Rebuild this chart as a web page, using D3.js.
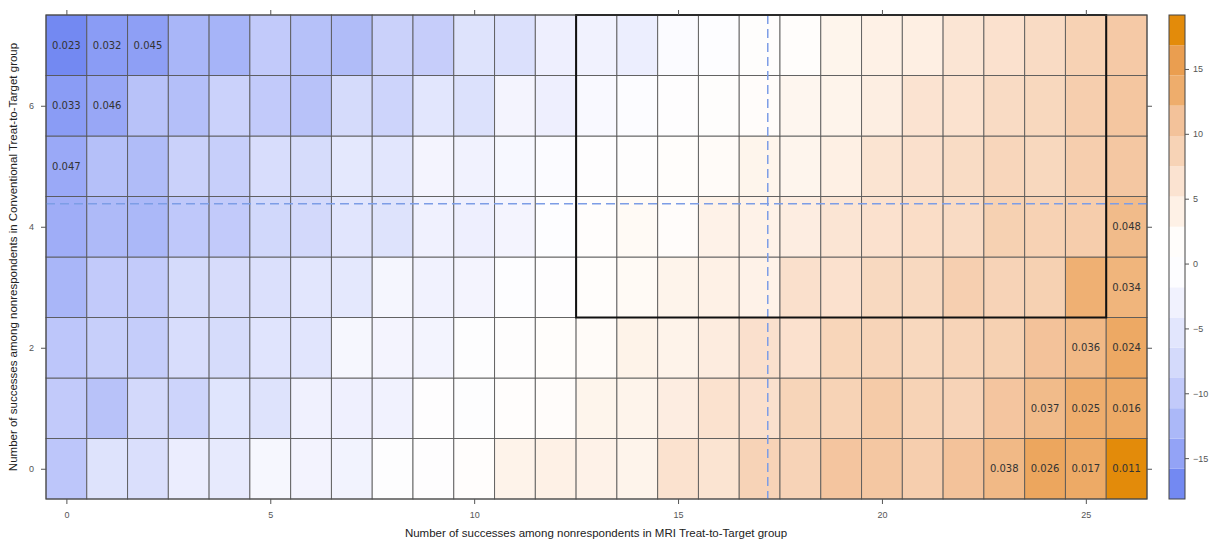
<!DOCTYPE html>
<html>
<head>
<meta charset="utf-8">
<script src="https://cdn.jsdelivr.net/npm/d3@7"></script>
<style>
  body { margin: 0; background: #fff; }
  svg { display: block; }
  .tick text { font-family: "Liberation Sans", Arial, sans-serif; font-size: 9px; fill: #555; }
  .tick line { stroke: #555; }
</style>
</head>
<body>
<div id="chart"></div>
<script>
// successes among nonrespondents, MRI group (x) and conventional group (y)
var xCats = [0,1,2,3,4,5,6,7,8,9,10,11,12,13,14,15,16,17,18,19,20,21,22,23,24,25,26];
var yCats = [0,1,2,3,4,5,6,7];

// difference values per row (y = 0 .. 7)
var row0 = [-10.5,-6.0,-6.7,-4.0,-4.5,-2.0,-2.7,-2.8,-0.3,0.0,1.3,3.6,4.0,3.8,3.5,6.5,6.2,8.6,8.6,10.6,10.3,9.3,11.0,12.0,14.5,13.8,18.0];
var row1 = [-10.0,-11.0,-7.8,-8.6,-5.6,-6.0,-3.2,-3.3,-3.0,0.0,-0.3,1.3,1.8,3.3,3.5,4.6,6.5,6.7,8.4,8.7,9.8,8.7,8.6,10.6,11.8,13.3,13.8];
var row2 = [-10.5,-9.3,-9.6,-7.0,-7.3,-5.7,-5.5,-2.0,-2.5,-2.6,-0.3,0.5,1.6,2.0,3.7,3.6,4.8,6.7,6.6,8.3,8.5,8.0,8.5,9.0,11.0,12.0,14.0];
var row3 = [-12.5,-10.0,-9.8,-7.5,-7.2,-6.5,-5.3,-5.0,-2.2,-3.0,-2.5,-0.5,0.0,1.5,2.3,3.5,4.0,3.8,6.8,6.6,7.8,7.8,9.2,8.6,9.0,13.0,12.5];
var row4 = [-13.5,-12.0,-12.3,-10.3,-10.0,-8.0,-7.8,-5.5,-6.0,-3.2,-3.5,-2.5,-0.5,1.2,2.3,1.8,3.8,3.8,4.6,6.0,6.6,7.2,7.5,9.0,8.8,9.5,11.8];
var row5 = [-14.0,-11.3,-11.8,-9.0,-9.3,-7.0,-7.3,-5.0,-5.3,-2.5,-3.0,-1.8,-1.0,0.0,0.5,1.5,2.0,3.3,3.2,4.2,6.2,6.8,7.4,8.2,8.0,9.3,10.3];
var row6 = [-15.3,-14.2,-11.0,-11.4,-8.8,-10.0,-11.0,-7.5,-8.5,-5.3,-6.3,-2.5,-3.5,-1.5,-0.8,0.0,0.8,1.8,3.0,3.5,4.5,6.3,6.5,7.5,8.0,9.3,10.5];
var row7 = [-17.5,-15.3,-15.0,-12.5,-12.8,-10.0,-11.2,-11.8,-9.0,-9.5,-6.0,-6.5,-3.5,-3.0,-3.7,-1.0,-0.5,0.8,1.5,3.3,4.0,4.3,6.0,6.6,7.5,8.8,10.0];
var rows = [row0, row1, row2, row3, row4, row5, row6, row7];

// p-value labels on significant cells
var pX      = [0, 1, 2, 0, 1, 0, 26, 26, 25, 26, 24, 25, 26, 23, 24, 25, 26];
var pY      = [7, 7, 7, 6, 6, 5, 4, 3, 2, 2, 1, 1, 1, 0, 0, 0, 0];
var pLabels = ["0.023","0.032","0.045","0.033","0.046","0.047","0.048","0.034","0.036","0.024","0.037","0.025","0.016","0.038","0.026","0.017","0.011"];

// colour key cut points and tick labels
var keyBreaks = [-18.15,-15.82,-13.49,-11.15,-8.82,-6.49,-4.16,-1.83,0.51,2.84,5.17,7.50,9.83,12.17,14.50,16.83,19.16];
var keyTicks = [-15,-10,-5,0,5,10,15];
var xTicks = [0,5,10,15,20,25];
var yTicks = [0,2,4,6];

// observed point (dashed lines) and highlighted region
var obsX = 17.2, obsY = 4.38;
var boxX = [12.5, 25.5], boxY = [2.5, 7.5];

var palette = ["#7389f2","#93a3f6","#abb8f8","#c2cafa","#d4dafb","#e2e6fd","#f1f2fe","#fdfdff",
               "#fffdfb","#fef1e6","#fbe3d1","#f7d3b6","#f3c29a","#eead6c","#ea9e50","#e38b0a"];

var W = 1211, H = 542;
var svg = d3.select("#chart").append("svg").attr("width", W).attr("height", H);
svg.append("rect").attr("width", W).attr("height", H).attr("fill", "#fff");

var x = d3.scaleLinear().domain([-0.5, 26.5]).range([46, 1147]);
var y = d3.scaleLinear().domain([-0.5, 7.5]).range([499, 15]);

var mids = d3.range(palette.length).map(function(i) { return (keyBreaks[i] + keyBreaks[i+1]) / 2; });
var color = d3.scaleLinear().domain(mids).range(palette).clamp(true);

var cells = [];
rows.forEach(function(r, j) {
  r.forEach(function(v, i) { cells.push({x: xCats[i], y: yCats[j], v: v}); });
});

var g = svg.append("g");
g.selectAll(".cell").data(cells).enter().append("rect")
  .attr("class", "cell")
  .attr("x", function(d) { return x(d.x - 0.5); })
  .attr("y", function(d) { return y(d.y + 0.5); })
  .attr("width", x(1) - x(0))
  .attr("height", y(0) - y(1))
  .attr("fill", function(d) { return color(d.v); })
  .attr("stroke", "#555")
  .attr("stroke-opacity", 0.85)
  .attr("stroke-width", 1);

// p-value text
g.selectAll(".plab").data(pLabels).enter().append("text")
  .attr("x", function(d, i) { return x(pX[i]); })
  .attr("y", function(d, i) { return y(pY[i]); })
  .attr("dy", "0.35em")
  .attr("text-anchor", "middle")
  .attr("font-family", "DejaVu Sans, sans-serif")
  .attr("font-size", 10)
  .attr("fill", "#333")
  .text(function(d) { return d; });

// dashed reference lines
g.append("line")
  .attr("x1", x(-0.5)).attr("x2", x(26.5))
  .attr("y1", y(obsY)).attr("y2", y(obsY))
  .attr("stroke", "#7d9de6").attr("stroke-width", 1.5).attr("stroke-dasharray", "9,5");
g.append("line")
  .attr("x1", x(obsX)).attr("x2", x(obsX))
  .attr("y1", y(7.5)).attr("y2", y(-0.5))
  .attr("stroke", "#7d9de6").attr("stroke-width", 1.5).attr("stroke-dasharray", "9,5");

// highlighted box
g.append("rect")
  .attr("x", x(boxX[0])).attr("y", y(boxY[1]))
  .attr("width", x(boxX[1]) - x(boxX[0]))
  .attr("height", y(boxY[0]) - y(boxY[1]))
  .attr("fill", "none").attr("stroke", "#111").attr("stroke-width", 2);

// frame
g.append("rect")
  .attr("x", 46).attr("y", 15).attr("width", 1147 - 46).attr("height", 499 - 15)
  .attr("fill", "none").attr("stroke", "#444").attr("stroke-width", 1);

// axes
svg.append("g").attr("transform", "translate(0,499)")
  .call(d3.axisBottom(x).tickValues(xTicks).tickSize(5).tickPadding(8))
  .call(function(s) { s.select(".domain").remove(); });
svg.append("g").attr("transform", "translate(0,15)")
  .call(d3.axisTop(x).tickValues(xTicks).tickSize(5).tickFormat(""))
  .call(function(s) { s.select(".domain").remove(); });
svg.append("g").attr("transform", "translate(46,0)")
  .call(d3.axisLeft(y).tickValues(yTicks).tickSize(5).tickPadding(7))
  .call(function(s) { s.select(".domain").remove(); });
svg.append("g").attr("transform", "translate(1147,0)")
  .call(d3.axisRight(y).tickValues(yTicks).tickSize(5).tickFormat(""))
  .call(function(s) { s.select(".domain").remove(); });

// axis titles
svg.append("text")
  .attr("x", 596).attr("y", 537)
  .attr("text-anchor", "middle")
  .attr("font-family", "Liberation Sans, Arial, sans-serif")
  .attr("font-size", 11.5).attr("fill", "#222")
  .text("Number of successes among nonrespondents in MRI Treat-to-Target group");
svg.append("text")
  .attr("transform", "translate(17,257) rotate(-90)")
  .attr("text-anchor", "middle")
  .attr("font-family", "Liberation Sans, Arial, sans-serif")
  .attr("font-size", 11.5).attr("fill", "#222")
  .text("Number of successes among nonrespondents in Conventional Treat-to-Target group");

// colour key
var ky = d3.scaleLinear().domain([keyBreaks[0], keyBreaks[keyBreaks.length - 1]]).range([499, 15]);
var key = svg.append("g").attr("transform", "translate(1169,0)");
key.selectAll(".band").data(palette).enter().append("rect")
  .attr("x", 0).attr("width", 16)
  .attr("y", function(d, i) { return ky(keyBreaks[i+1]); })
  .attr("height", function(d, i) { return ky(keyBreaks[i]) - ky(keyBreaks[i+1]); })
  .attr("fill", function(d) { return d; });
key.append("rect").attr("x", 0).attr("y", 15).attr("width", 16).attr("height", 484)
  .attr("fill", "none").attr("stroke", "#444");
key.append("g").attr("transform", "translate(16,0)")
  .call(d3.axisRight(ky).tickValues(keyTicks).tickSize(4).tickPadding(4))
  .call(function(s) { s.select(".domain").remove(); });
</script>
</body>
</html>
